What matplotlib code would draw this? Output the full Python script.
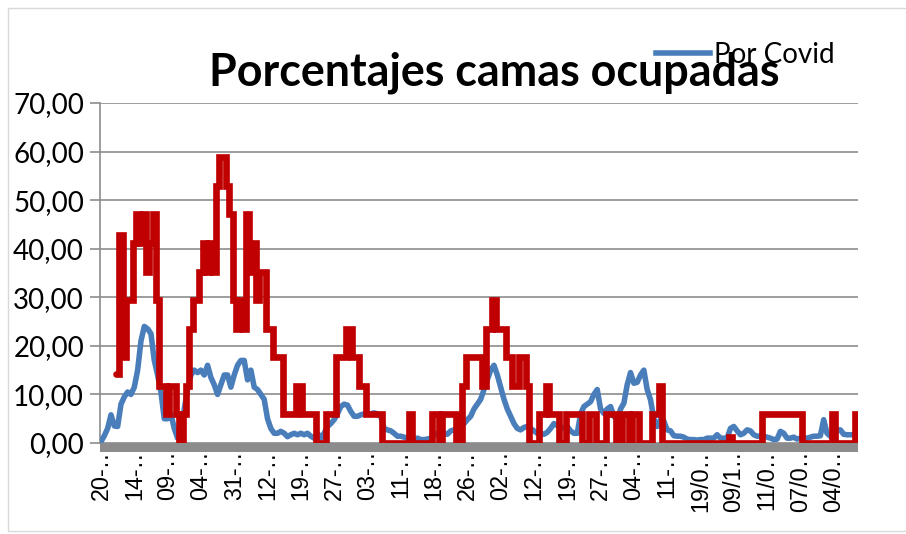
import numpy as np
import matplotlib
matplotlib.use("Agg")
import matplotlib.pyplot as plt
from matplotlib.patches import Rectangle
from matplotlib.lines import Line2D

# ---------------- data ----------------
tick_labels = ["20-…", "14-…", "09-…", "04-…", "31-…", "12-…", "19-…", "27-…",
               "03-…", "11-…", "18-…", "26-…", "02-…", "12-…", "19-…", "27-…",
               "04-…", "11-…", "19/0…", "09/1…", "11/0…", "07/0…", "04/0…"]

y_tick_values = [0, 10, 20, 30, 40, 50, 60, 70]
y_tick_labels = ["0,00", "10,00", "20,00", "30,00", "40,00", "50,00", "60,00", "70,00"]

por_covid = [
    0.3, 1.5, 3.0, 5.8, 3.5, 3.4, 8.0, 9.5, 10.5, 10.0,
    11.5, 15.0, 21.0, 24.0, 23.5, 22.5, 17.0, 14.0, 10.5, 5.0,
    5.0, 6.0, 3.0, 1.0, 0.5, 7.0, 11.0, 14.0, 15.0, 14.5,
    15.0, 14.0, 16.0, 13.5, 12.0, 10.0, 12.0, 14.0, 14.0, 11.5,
    14.0, 16.0, 17.0, 17.0, 13.0, 15.0, 11.5, 11.0, 10.0, 9.0,
    5.0, 3.0, 2.0, 2.0, 2.4, 2.0, 1.3, 1.7, 2.0, 1.7,
    2.0, 1.7, 2.0, 1.4, 1.0, 2.0, 1.0, 2.0, 3.4, 4.0,
    4.8, 6.0, 7.5, 8.0, 7.8, 6.5, 5.5, 5.5, 5.8, 6.0,
    6.0, 6.0, 6.2, 6.0, 5.5, 3.0, 2.7, 2.5, 2.0, 1.4,
    1.4, 1.2, 1.0, 1.0, 0.8, 1.0, 0.7, 0.7, 0.8, 1.0,
    1.5, 2.0, 2.0, 2.0, 1.8, 2.5, 2.7, 2.7, 3.5, 4.0,
    4.8, 5.5, 7.0, 8.0, 9.0, 11.0, 13.0, 15.0, 16.0, 14.0,
    11.5, 9.0, 7.0, 5.5, 4.0, 3.0, 2.7, 3.2, 3.4, 3.0,
    2.5, 2.0, 2.0, 1.8, 2.2, 3.0, 4.0, 3.6, 3.4, 3.0,
    3.4, 2.5, 2.0, 2.0, 6.0, 7.5, 8.0, 8.5, 10.0, 11.0,
    7.0, 6.1, 7.0, 7.5, 5.5, 4.8, 7.0, 8.2, 12.0, 14.5,
    12.3, 12.5, 14.0, 15.0, 11.0, 8.9, 5.0, 3.4, 4.8, 4.5,
    2.7, 2.5, 1.5, 1.4, 1.4, 1.2, 0.8, 0.7, 0.7, 0.6,
    0.7, 0.7, 1.0, 1.0, 1.0, 1.7, 1.0, 1.0, 1.0, 3.0,
    3.4, 2.5, 1.7, 2.0, 2.7, 2.5, 1.7, 1.4, 1.4, 1.4,
    1.2, 1.0, 0.7, 0.8, 2.4, 2.0, 1.0, 1.0, 1.2, 0.8,
    1.0, 1.0, 1.0, 1.2, 1.4, 1.4, 1.5, 4.8, 2.0, 1.4,
    1.4, 2.7, 2.7, 1.8, 1.7, 1.7, 1.7, 1.5,
]

uci = [
    np.nan, np.nan, np.nan, np.nan, np.nan, 14.29, 42.86, 17.65, 29.41, 29.41,
    41.18, 47.06, 41.18, 47.06, 35.29, 41.18, 47.06, 29.41, 11.76, 11.76,
    5.88, 11.76, 11.76, 5.88, 0.0, 5.88, 11.76, 23.53, 29.41, 29.41,
    35.29, 41.18, 35.29, 41.18, 35.29, 52.94, 58.82, 58.82, 52.94, 47.06,
    29.41, 23.53, 29.41, 23.53, 47.06, 35.29, 41.18, 29.41, 35.29, 35.29,
    23.53, 23.53, 17.65, 17.65, 17.65, 5.88, 5.88, 5.88, 5.88, 11.76,
    11.76, 5.88, 5.88, 5.88, 5.88, 0.0, 0.0, 0.0, 5.88, 5.88,
    5.88, 17.65, 17.65, 17.65, 23.53, 23.53, 17.65, 17.65, 11.76, 11.76,
    5.88, 5.88, 5.88, 5.88, 5.88, 0.0, 0.0, 0.0, 0.0, 0.0,
    0.0, 0.0, 0.0, 5.88, 0.0, 0.0, 0.0, 0.0, 0.0, 0.0,
    5.88, 5.88, 0.0, 5.88, 5.88, 5.88, 5.88, 0.0, 0.0, 11.76,
    17.65, 17.65, 17.65, 17.65, 17.65, 11.76, 23.53, 23.53, 29.41, 23.53,
    23.53, 23.53, 17.65, 17.65, 11.76, 11.76, 17.65, 17.65, 11.76, 0.0,
    0.0, 0.0, 5.88, 5.88, 11.76, 5.88, 5.88, 5.88, 0.0, 0.0,
    5.88, 5.88, 5.88, 5.88, 5.88, 0.0, 0.0, 5.88, 5.88, 0.0,
    0.0, 0.0, 5.88, 5.88, 5.88, 0.0, 0.0, 5.88, 5.88, 0.0,
    5.88, 5.88, 0.0, 0.0, 0.0, 0.0, 5.88, 5.88, 11.76, 0.0,
    0.0, 0.0, 0.0, 0.0, 0.0, 0.0, 0.0, 0.0, 0.0, 0.0,
    0.0, 0.0, 0.0, 0.0, 0.0, 0.0, 0.0, 0.0, 0.0, 1.2,
    0.0, 0.0, 0.0, 0.0, 0.0, 0.0, 0.0, 0.0, 0.0, 5.88,
    5.88, 5.88, 5.88, 5.88, 5.88, 5.88, 5.88, 5.88, 5.88, 5.88,
    5.88, 0.0, 0.0, 0.0, 0.0, 0.0, 0.0, 0.0, 0.0, 0.0,
    5.88, 0.0, 0.0, 0.0, 0.0, 0.0, 0.0, 5.88,
]

tick_step = 10  # categories between labelled ticks

# ---------------- figure ----------------
W, H = 906, 534
fig = plt.figure(figsize=(W / 100, H / 100), dpi=100)
fig.patch.set_facecolor("white")


def fx(px):
    return px / W


def fy(py):
    return 1 - py / H


# chart-area border
fig.patches.append(Rectangle((fx(8), fy(531)), fx(920) - fx(8), fy(8) - fy(531),
                             transform=fig.transFigure, fill=False,
                             edgecolor="#d9d9d9", lw=1.0))

ax = fig.add_axes([fx(100), fy(443), fx(858) - fx(100), fy(103) - fy(443)])
x = np.arange(len(por_covid))

BLUE = "#4a7ebb"
RED = "#c00000"
GRID = "#8c8c8c"

ax.plot(x, por_covid, color=BLUE, lw=4.0, solid_joinstyle="round",
        solid_capstyle="round", zorder=3)
ax.plot(x, uci, color=RED, lw=4.8, drawstyle="steps-mid",
        solid_joinstyle="miter", solid_capstyle="round", zorder=4)

ax.set_xlim(-0.3, 227.3)
ax.set_ylim(0, 70)

ax.set_yticks(y_tick_values)
ax.set_yticklabels(y_tick_labels, family="Lato", fontsize=20)
ax.grid(axis="y", color=GRID, lw=1.2, zorder=1)
ax.set_axisbelow(True)

for s in ("top", "right", "bottom"):
    ax.spines[s].set_visible(False)
ax.spines["left"].set_color(GRID)
ax.spines["left"].set_linewidth(1.2)
ax.tick_params(axis="y", length=7.5, width=1.2, color=GRID, pad=4)

ticks = np.arange(0, len(tick_labels) * tick_step, tick_step)
ax.set_xticks(ticks)
ax.set_xticklabels(tick_labels, rotation=90, family="Liberation Sans",
                   fontsize=16.8)
ax.tick_params(axis="x", length=0, pad=0)

# grey floor band under the category axis
ax.add_patch(Rectangle((0, -8.5 / 340), 1, 8.5 / 340, transform=ax.transAxes,
                       facecolor=GRID, edgecolor="none", clip_on=False, zorder=2))

# title
fig.text(fx(494), fy(86), "Porcentajes camas ocupadas", ha="center",
         va="baseline", family="Lato", fontweight="bold", fontsize=32.3)

# legend (only "Por Covid" is shown in the reference)
leg = fig.legend(handles=[Line2D([], [], color=BLUE, lw=4.0)],
                 labels=["Por Covid"], loc="center left",
                 bbox_to_anchor=(fx(656), fy(55)), bbox_transform=fig.transFigure,
                 frameon=False, borderpad=0, borderaxespad=0,
                 handlelength=1.95, handletextpad=0.12,
                 prop={"family": "Lato", "size": 20})

fig.savefig("out.png", dpi=100, facecolor="white")
